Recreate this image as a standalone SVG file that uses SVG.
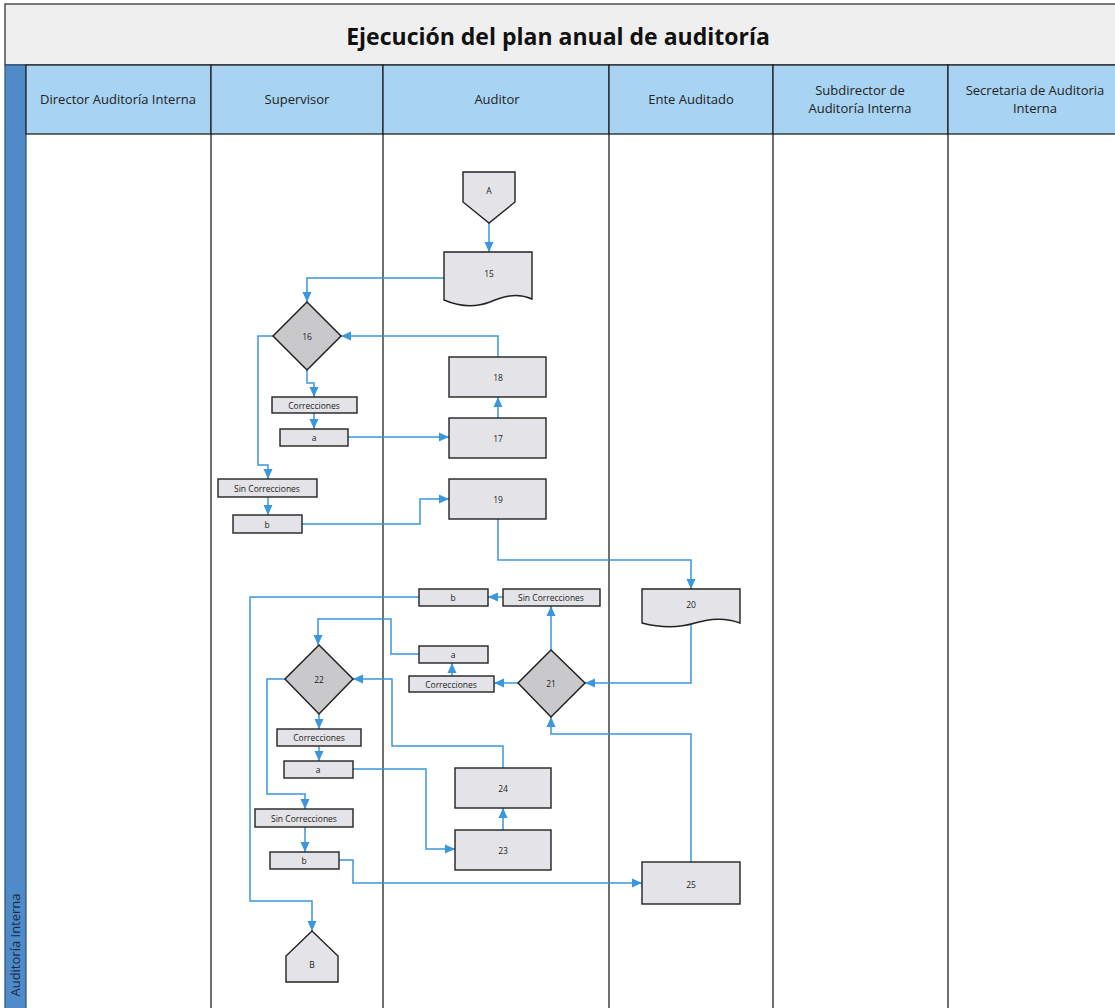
<svg xmlns="http://www.w3.org/2000/svg" width="1115" height="1008" viewBox="0 0 1115 1008">
<defs>
<marker id="arr" markerUnits="userSpaceOnUse" markerWidth="10" markerHeight="10" viewBox="0 0 10 10" refX="10" refY="5" orient="auto">
<path d="M0,0.5 L10,5 L0,9.5 Z" fill="#3a96dd"/>
</marker>
<style>
.lane{stroke:#222;stroke-width:1.3;fill:none}
.hd{fill:#a8d3f3;stroke:#222;stroke-width:1.3}
.ht{font-family:"Open Sans","Liberation Sans",sans-serif;font-size:13px;fill:#222;text-anchor:middle}
.box{fill:#e4e4e8;stroke:#222;stroke-width:1.4}
.dia{fill:#c9c9cc;stroke:#222;stroke-width:1.5}
.lbl{font-family:"Open Sans","Liberation Sans",sans-serif;font-size:8.5px;fill:#222;text-anchor:middle;dominant-baseline:central}
.c{fill:none;stroke:#3a96dd;stroke-width:1.5;marker-end:url(#arr)}
</style>
</defs>
<rect x="0" y="0" width="1115" height="1008" fill="#ffffff"/>
<g id="title">
<rect x="5" y="4" width="1115" height="61" fill="#efefef" stroke="#333" stroke-width="1.3"/>
<text x="558" y="45" font-family="'Open Sans','Liberation Sans',sans-serif" font-size="23px" font-weight="bold" fill="#111" text-anchor="middle">Ejecución del plan anual de auditoría</text>
</g>
<g id="pool">
<rect x="5" y="65" width="21" height="945" fill="#4f8ac9" stroke="#2c4f7a" stroke-width="1.2"/>
<text transform="translate(20,945) rotate(-90)" font-family="'Open Sans','Liberation Sans',sans-serif" font-size="13px" fill="#1a2b4a" text-anchor="middle">Auditoría Interna</text>
</g>
<g id="headers">
<rect class="hd" x="26" y="65" width="185" height="69"/>
<rect class="hd" x="211" y="65" width="172" height="69"/>
<rect class="hd" x="383" y="65" width="226" height="69"/>
<rect class="hd" x="609" y="65" width="164" height="69"/>
<rect class="hd" x="773" y="65" width="175" height="69"/>
<rect class="hd" x="948" y="65" width="180" height="69"/>
<text class="ht" x="118" y="104">Director Auditoría Interna</text>
<text class="ht" x="297" y="104">Supervisor</text>
<text class="ht" x="497" y="104">Auditor</text>
<text class="ht" x="691" y="104">Ente Auditado</text>
<text class="ht" x="860" y="95">Subdirector de</text>
<text class="ht" x="860" y="113">Auditoría Interna</text>
<text class="ht" x="1035" y="95">Secretaria de Auditoria</text>
<text class="ht" x="1035" y="113">Interna</text>
</g>
<g id="lanes">
<line class="lane" x1="211" y1="134" x2="211" y2="1008"/>
<line class="lane" x1="383" y1="134" x2="383" y2="1008"/>
<line class="lane" x1="609" y1="134" x2="609" y2="1008"/>
<line class="lane" x1="773" y1="134" x2="773" y2="1008"/>
<line class="lane" x1="948" y1="134" x2="948" y2="1008"/>
</g>
<g id="connectors">
<path class="c" d="M489,223 V252"/>
<path class="c" d="M444,278 H307 V302"/>
<path class="c" d="M498,357 V336 H341"/>
<path class="c" d="M307,370 V383 H314 V397"/>
<path class="c" d="M314,413 V429"/>
<path class="c" d="M348,437 H449"/>
<path class="c" d="M498,418 V397"/>
<path class="c" d="M273,336 H258 V465 H268 V479"/>
<path class="c" d="M268,497 V515"/>
<path class="c" d="M302,524 H420 V499 H449"/>
<path class="c" d="M498,519 V560 H691 V589"/>
<path class="c" d="M691,624 V683 H585"/>
<path class="c" d="M551,650 V606"/>
<path class="c" d="M503,597 H488"/>
<path class="c" d="M419,597 H250 V901 H312 V931"/>
<path class="c" d="M518,683 H494"/>
<path class="c" d="M452,676 V663"/>
<path class="c" d="M419,654 H391 V619 H318 V645"/>
<path class="c" d="M503,768 V746 H392 V679 H353"/>
<path class="c" d="M319,714 V729"/>
<path class="c" d="M319,746 V761"/>
<path class="c" d="M353,769 H426 V849 H455"/>
<path class="c" d="M503,830 V808"/>
<path class="c" d="M285,679 H267 V794 H305 V809"/>
<path class="c" d="M305,827 V852"/>
<path class="c" d="M339,860 H353 V883 H642"/>
<path class="c" d="M691,862 V734 H551 V717"/>
</g>
<g id="nA"><path class="box" d="M463,172 H515 V202 L489,223 L463,202 Z"/><text class="lbl" x="489" y="190">A</text></g>
<g id="n15"><path class="box" d="M444,252 H532 V299 C516,292 502,297 490,302 C474,308 458,306 444,300 Z"/><text class="lbl" x="489" y="273">15</text></g>
<g id="n16"><path class="dia" d="M307,302 L341,336 L307,370 L273,336 Z"/><text class="lbl" x="307" y="336">16</text></g>
<g id="n18"><rect class="box" x="449" y="357" width="97" height="40"/><text class="lbl" x="498" y="377">18</text></g>
<g id="n17"><rect class="box" x="449" y="418" width="97" height="40"/><text class="lbl" x="498" y="438">17</text></g>
<g id="c16a"><rect class="box" x="272" y="397" width="85" height="16"/><text class="lbl" x="314" y="405">Correcciones</text></g>
<g id="a16"><rect class="box" x="280" y="429" width="68" height="17"/><text class="lbl" x="314" y="437">a</text></g>
<g id="s16"><rect class="box" x="218" y="479" width="99" height="18"/><text class="lbl" x="267" y="488">Sin Correcciones</text></g>
<g id="b16"><rect class="box" x="233" y="515" width="69" height="18"/><text class="lbl" x="267" y="524">b</text></g>
<g id="n19"><rect class="box" x="449" y="479" width="97" height="40"/><text class="lbl" x="498" y="499">19</text></g>
<g id="n20"><path class="box" d="M642,589 H740 V623 C724,617 710,619 695,623 C682,627 665,629 642,623 Z"/><text class="lbl" x="691" y="604">20</text></g>
<g id="n21"><path class="dia" d="M551,650 L585,683 L551,717 L518,683 Z"/><text class="lbl" x="551" y="683">21</text></g>
<g id="s21"><rect class="box" x="503" y="589" width="97" height="17"/><text class="lbl" x="551" y="597">Sin Correcciones</text></g>
<g id="b21"><rect class="box" x="419" y="589" width="69" height="17"/><text class="lbl" x="453" y="597">b</text></g>
<g id="a21"><rect class="box" x="419" y="646" width="69" height="17"/><text class="lbl" x="453" y="654">a</text></g>
<g id="c21"><rect class="box" x="409" y="676" width="85" height="16"/><text class="lbl" x="451" y="684">Correcciones</text></g>
<g id="n22"><path class="dia" d="M319,645 L353,679 L319,714 L285,679 Z"/><text class="lbl" x="319" y="679">22</text></g>
<g id="c22"><rect class="box" x="277" y="729" width="84" height="17"/><text class="lbl" x="319" y="737">Correcciones</text></g>
<g id="a22"><rect class="box" x="284" y="761" width="69" height="17"/><text class="lbl" x="318" y="769">a</text></g>
<g id="s22"><rect class="box" x="255" y="809" width="98" height="18"/><text class="lbl" x="304" y="818">Sin Correcciones</text></g>
<g id="b22"><rect class="box" x="270" y="852" width="69" height="17"/><text class="lbl" x="304" y="860">b</text></g>
<g id="n24"><rect class="box" x="455" y="768" width="96" height="40"/><text class="lbl" x="503" y="788">24</text></g>
<g id="n23"><rect class="box" x="455" y="830" width="96" height="40"/><text class="lbl" x="503" y="850">23</text></g>
<g id="n25"><rect class="box" x="642" y="862" width="98" height="42"/><text class="lbl" x="691" y="884">25</text></g>
<g id="nB"><path class="box" d="M312,931 L338,956 V982 H286 V956 Z"/><text class="lbl" x="312" y="964">B</text></g>
</svg>
